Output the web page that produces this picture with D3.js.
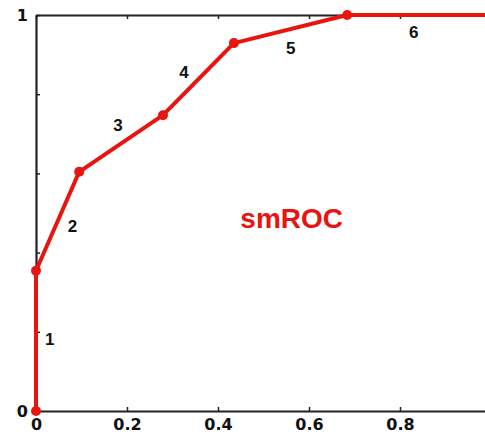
<!DOCTYPE html>
<html>
<head>
<meta charset="utf-8">
<script src="https://cdn.jsdelivr.net/npm/d3@7"></script>
<style>
  body { margin: 0; background: #fff; }
  svg { display: block; }
</style>
</head>
<body>
<svg id="chart" width="485" height="435"></svg>
<script>
// ROC points
const fpr = [0, 0, 0.095, 0.279, 0.435, 0.684, 1];
const tpr = [0, 0.354, 0.604, 0.747, 0.929, 1, 1];
const segLabels = ["1", "2", "3", "4", "5", "6"];
// label anchor positions (data coords)
const labelX = [0.03, 0.08, 0.18, 0.325, 0.56, 0.83];
const labelY = [0.18, 0.465, 0.72, 0.855, 0.915, 0.955];
const xTicks = [0, 0.2, 0.4, 0.6, 0.8];
const yTicks = [0, 0.2, 0.4, 0.6, 0.8, 1];
const yTickLabels = { 0: "0", 1: "1" };

const margin = { top: 15, right: 0, bottom: 24, left: 36 };
const plotW = 455, plotH = 396;

const svg = d3.select("#chart");
const g = svg.append("g").attr("transform", `translate(${margin.left},${margin.top})`);

const x = d3.scaleLinear().domain([0, 1]).range([0, plotW]);
const y = d3.scaleLinear().domain([0, 1]).range([plotH, 0]);

// frame with inward ticks
const fmtX = d => d === 0 ? "0" : d3.format(".1f")(d);
const bottomAx = g.append("g").attr("transform", `translate(0,${plotH})`)
  .call(d3.axisBottom(x).tickValues(xTicks).tickSizeInner(-4).tickSizeOuter(0).tickPadding(8).tickFormat(fmtX));
const topAx = g.append("g")
  .call(d3.axisTop(x).tickValues(xTicks).tickSizeInner(-4).tickSizeOuter(0).tickFormat(""));
const leftAx = g.append("g")
  .call(d3.axisLeft(y).tickValues(yTicks).tickSizeInner(-4).tickSizeOuter(0).tickPadding(8)
    .tickFormat(d => yTickLabels[d] || ""));
const rightAx = g.append("g").attr("transform", `translate(${plotW},0)`)
  .call(d3.axisRight(y).tickValues(yTicks).tickSizeInner(-4).tickSizeOuter(0).tickFormat(""));

[bottomAx, topAx, leftAx, rightAx].forEach(a => {
  a.select(".domain").attr("stroke", "#222").attr("stroke-width", 2.2);
  a.selectAll(".tick line").attr("stroke", "#222").attr("stroke-width", 1.5);
  a.selectAll("text").attr("font-family", "DejaVu Sans, sans-serif")
    .attr("font-weight", "bold").attr("font-size", 16).attr("fill", "#111");
});

// curve
const pts = fpr.map((v, i) => [v, tpr[i]]);
g.append("path")
  .datum(pts)
  .attr("fill", "none")
  .attr("stroke", "#e8140f")
  .attr("stroke-width", 4)
  .attr("stroke-linejoin", "round")
  .attr("d", d3.line().x(d => x(d[0])).y(d => y(d[1])));

g.selectAll("circle.pt")
  .data(pts.slice(0, 6))
  .join("circle")
  .attr("class", "pt")
  .attr("cx", d => x(d[0]))
  .attr("cy", d => y(d[1]))
  .attr("r", 5)
  .attr("fill", "#e8140f");

// segment numbers
g.selectAll("text.seg")
  .data(segLabels)
  .join("text")
  .attr("class", "seg")
  .attr("x", (d, i) => x(labelX[i]))
  .attr("y", (d, i) => y(labelY[i]))
  .attr("text-anchor", "middle")
  .attr("dominant-baseline", "central")
  .attr("font-family", "Liberation Sans, Arial, sans-serif")
  .attr("font-weight", "bold")
  .attr("font-size", 17)
  .attr("fill", "#111")
  .text(d => d);

g.append("text")
  .attr("x", x(0.562))
  .attr("y", y(0.461))
  .attr("text-anchor", "middle")
  .attr("font-family", "Liberation Sans, Arial, sans-serif")
  .attr("font-weight", "bold")
  .attr("font-size", 28)
  .attr("fill", "#e8140f")
  .text("smROC");
</script>
</body>
</html>
